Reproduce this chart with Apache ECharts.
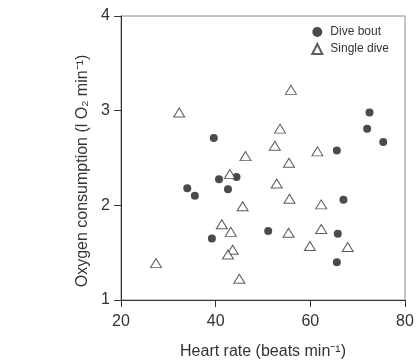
<!DOCTYPE html>
<html>
<head>
<meta charset="utf-8">
<script src="https://cdn.jsdelivr.net/npm/echarts@6/dist/echarts.min.js"></script>
<style>
  html, body { margin: 0; padding: 0; background: #fff; }
  #main { width: 418px; height: 362px; }
</style>
</head>
<body>
<div id="main"></div>
<script>
// heart rate (beats/min) and oxygen consumption (l O2/min)
let boutHR = [39.6, 72.5, 72.0, 75.4, 65.6, 44.4, 40.7, 34.0, 42.6, 35.6, 39.2, 51.1, 67.0, 65.8, 65.6];
let boutVO2 = [2.71, 2.98, 2.81, 2.67, 2.58, 2.30, 2.275, 2.18, 2.17, 2.10, 1.65, 1.73, 2.06, 1.70, 1.40];

let singleHR = [32.3, 46.3, 55.9, 53.6, 52.5, 61.5, 55.5, 43.0, 45.7, 41.3, 43.2, 43.6, 42.6, 27.4, 45.0, 52.9, 55.6, 62.3, 55.4, 62.3, 59.9, 67.9];
let singleVO2 = [2.98, 2.52, 3.22, 2.81, 2.63, 2.57, 2.45, 2.33, 1.99, 1.80, 1.72, 1.53, 1.48, 1.39, 1.225, 2.23, 2.07, 2.01, 1.71, 1.75, 1.57, 1.56];

let xTicks = [20, 40, 60, 80];
let yTicks = [1, 2, 3, 4];

function pairs(xs, ys) {
  return xs.map((x, i) => [x, ys[i]]);
}

let chart = echarts.init(document.getElementById('main'));
let font = 'Liberation Sans, Arial, sans-serif';

let option = {
  animation: false,
  textStyle: { fontFamily: font },
  grid: {
    left: 121, right: 13, top: 16, bottom: 62,
    outerBoundsMode: 'none',
    show: true,
    borderColor: '#8a8a8a',
    borderWidth: 1
  },
  legend: {
    orient: 'vertical',
    right: 24,
    top: 21,
    itemWidth: 10,
    itemHeight: 10,
    itemGap: 5,
    textStyle: { fontSize: 12, color: '#333', padding: [0, 0, 0, 3] },
    data: ['Dive bout', 'Single dive']
  },
  xAxis: {
    type: 'value',
    min: xTicks[0],
    max: xTicks[xTicks.length - 1],
    interval: 20,
    name: 'Heart rate (beats min⁻¹)',
    nameLocation: 'middle',
    nameGap: 44,
    nameTextStyle: { fontSize: 16, color: '#333' },
    axisLine: { lineStyle: { color: '#333', width: 1 } },
    axisTick: { inside: false, length: 7, lineStyle: { color: '#333' } },
    axisLabel: { fontSize: 16, color: '#333', margin: 14 },
    splitLine: { show: false }
  },
  yAxis: {
    type: 'value',
    min: yTicks[0],
    max: yTicks[yTicks.length - 1],
    interval: 1,
    name: 'Oxygen consumption (l O₂ min⁻¹)',
    nameLocation: 'middle',
    nameGap: 30,
    nameTextStyle: { fontSize: 16, color: '#333', padding: [0, 26, 0, 0] },
    axisLine: { lineStyle: { color: '#333', width: 1 } },
    axisTick: { inside: false, length: 7, lineStyle: { color: '#333' } },
    axisLabel: { fontSize: 16, color: '#333', margin: 11 },
    splitLine: { show: false }
  },
  series: [
    {
      name: 'Dive bout',
      type: 'scatter',
      symbol: 'circle',
      symbolSize: 8,
      itemStyle: { color: '#1e1e1e' },
      data: pairs(boutHR, boutVO2)
    },
    {
      name: 'Single dive',
      type: 'scatter',
      symbol: 'triangle',
      symbolSize: [11, 9],
      itemStyle: { color: '#fff', borderColor: '#333', borderWidth: 1 },
      data: pairs(singleHR, singleVO2)
    }
  ]
};

chart.setOption(option);
</script>
</body>
</html>
